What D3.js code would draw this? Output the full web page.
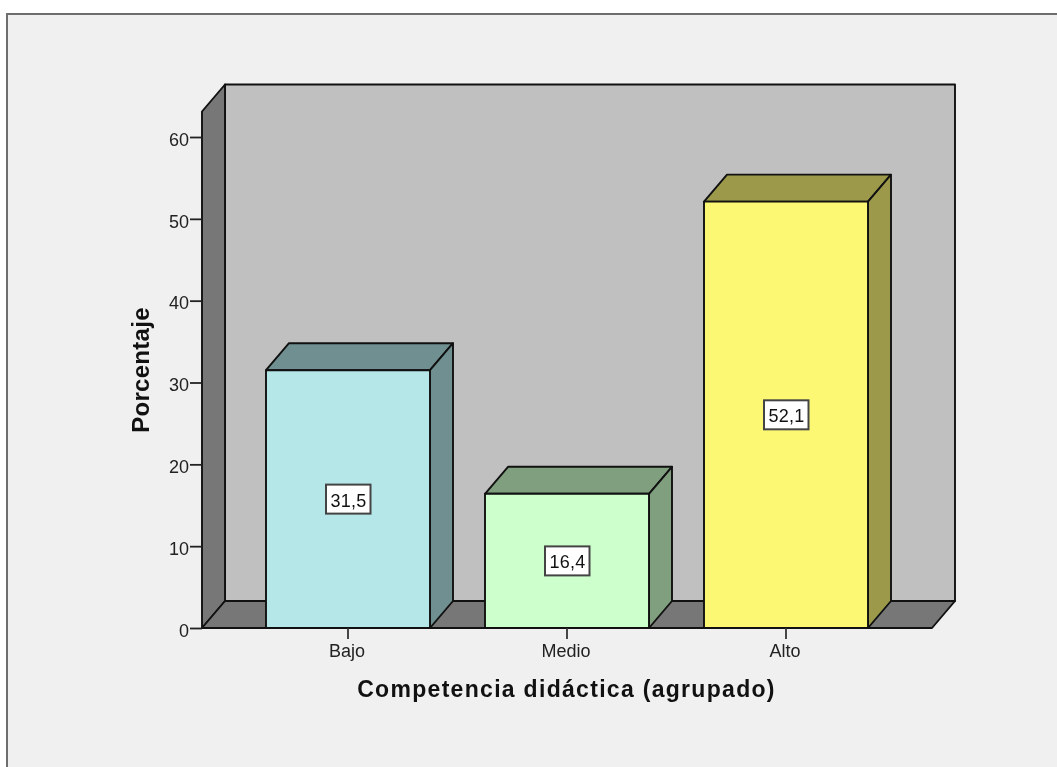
<!DOCTYPE html>
<html><head><meta charset="utf-8">
<script src="https://cdn.jsdelivr.net/npm/d3@7"></script>
<style>html,body{margin:0;padding:0;background:#fff}svg{display:block;filter:blur(.4px)}text{font-family:"Liberation Sans",Arial,sans-serif;fill:#111}</style>
</head><body><div id="chart"></div>
<script>
const categories = ["Bajo","Medio","Alto"];
const values = [31.5,16.4,52.1];
const valueLabels = ["31,5","16,4","52,1"];
const frontColors = ["#b5e6e8","#ccffcc","#fcf873"];
const sideColors = ["#6f8f90","#7f9f7f","#9c9a4a"];
const yTicks = [0,10,20,30,40,50,60];
const yTitle = "Porcentaje";
const xTitle = "Competencia didáctica (agrupado)";

const W=1057,H=767,dx=23,dy=27;
const svg=d3.select("#chart").append("svg").attr("width",W).attr("height",H);
svg.append("rect").attr("x",7).attr("y",14).attr("width",W).attr("height",H).attr("fill","#f0f0f0").attr("stroke","#6e6e6e").attr("stroke-width",2);

const x=d3.scaleBand().domain(categories).range([202,932]).paddingInner(55/219).paddingOuter(64/219);
const y=d3.scaleLinear().domain([0,60]).range([628,137]);
const topV=y.invert(111.5);
const line=d3.line();
const poly=(pts,fill)=>svg.append("path").attr("d",line(pts)+"Z").attr("fill",fill).attr("stroke","#111").attr("stroke-width",1.9).attr("stroke-linejoin","round");
const x0=x.range()[0],x1=x.range()[1],y0=y(0),yT=y(topV);

poly([[x0+dx,y0-dy],[x1+dx,y0-dy],[x1+dx,yT-dy],[x0+dx,yT-dy]],"#c0c0c0");
poly([[x0,y0],[x0+dx,y0-dy],[x0+dx,yT-dy],[x0,yT]],"#777777");
poly([[x0,y0],[x1,y0],[x1+dx,y0-dy],[x0+dx,y0-dy]],"#777777");

categories.forEach((c,i)=>{
  const l=x(c),r=l+x.bandwidth(),t=y(values[i]);
  poly([[l,t],[l+dx,t-dy],[r+dx,t-dy],[r,t]],sideColors[i]);
  poly([[r,t],[r+dx,t-dy],[r+dx,y0-dy],[r,y0]],sideColors[i]);
  poly([[l,y0],[l,t],[r,t],[r,y0]],frontColors[i]);
});

const yAxis=svg.append("g").attr("transform",`translate(${x0},0)`)
  .call(d3.axisLeft(y).tickValues(yTicks).tickSize(12).tickPadding(1).tickFormat(d3.format("d")));
yAxis.select(".domain").remove();
yAxis.selectAll("line").attr("stroke","#222").attr("stroke-width",1.8);
yAxis.selectAll("text").attr("font-size",18).attr("dy","0.46em").style("font-family",'"Liberation Sans",Arial,sans-serif').style("fill","#222");

const xAxis=svg.append("g").attr("transform",`translate(0,${y0})`)
  .call(d3.axisBottom(x).tickSize(11).tickPadding(5));
xAxis.select(".domain").remove();
xAxis.selectAll("line").attr("stroke","#333").attr("stroke-width",1.8);
xAxis.selectAll("text").attr("font-size",18).attr("dx",-1).style("font-family",'"Liberation Sans",Arial,sans-serif').style("fill","#222");

categories.forEach((c,i)=>{
  const cx=x(c)+x.bandwidth()/2, cy=y(values[i]/2);
  svg.append("rect").attr("x",cx-22).attr("y",cy-14.5).attr("width",44.5).attr("height",29).attr("fill","#fff").attr("stroke","#444").attr("stroke-width",2);
  svg.append("text").attr("x",cx+.5).attr("y",cy+7.5).attr("text-anchor","middle").attr("font-size",18).attr("letter-spacing",.3).text(valueLabels[i]);
});

svg.append("text").attr("x",566.5).attr("y",697).attr("text-anchor","middle").attr("font-size",23).attr("font-weight","bold").attr("letter-spacing",1.3).text(xTitle);
svg.append("text").attr("transform","translate(149,370) rotate(-90)").attr("text-anchor","middle").attr("font-size",24).attr("font-weight","bold").attr("letter-spacing",.3).text(yTitle);
</script></body></html>
